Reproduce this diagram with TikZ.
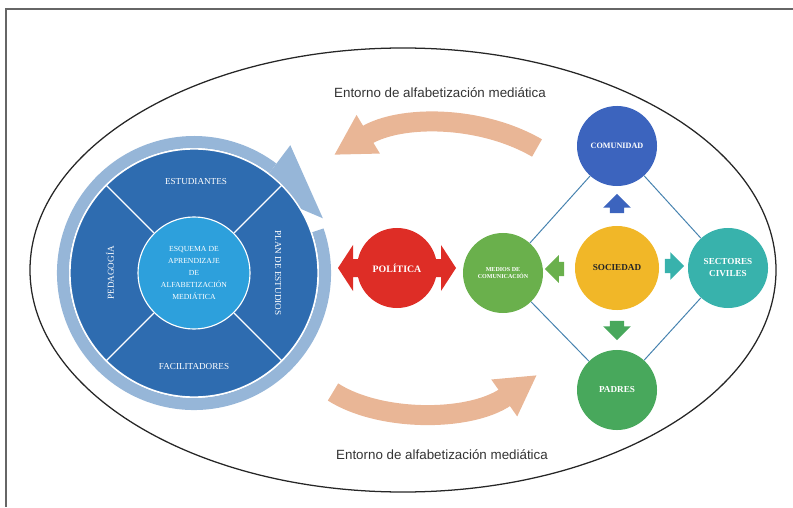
\documentclass[tikz,border=0pt]{standalone}
\usepackage{fontspec}
\setmainfont{Liberation Serif}
\newfontfamily\envfont{Liberation Sans}
\usepackage{xcolor}
\usepackage{tikz}
\usetikzlibrary{shapes.arrows, arrows.meta, calc, positioning}

\definecolor{diskblue}{RGB}{46,108,176}
\definecolor{ringblue}{RGB}{150,182,216}
\definecolor{coreblue}{RGB}{45,160,220}
\definecolor{polred}{RGB}{222,45,38}
\definecolor{medgreen}{RGB}{106,176,76}
\definecolor{comblue}{RGB}{60,100,190}
\definecolor{socyellow}{RGB}{241,183,40}
\definecolor{secteal}{RGB}{56,178,172}
\definecolor{padgreen}{RGB}{72,168,92}
\definecolor{salmon}{RGB}{233,182,150}
\definecolor{linkblue}{RGB}{70,130,175}

\tikzset{
  ball/.style={circle, minimum size=2cm, inner sep=0pt, align=center, text=white,
    font=\bfseries\fontsize{6.5}{8.5}\selectfont},
  sector/.style={text=white, inner sep=1pt, font=\fontsize{6.5}{7}\selectfont},
  pointer/.style={single arrow, minimum height=0.48cm, inner xsep=0pt, inner ysep=0.17cm,
    single arrow head extend=0.17cm, single arrow head indent=0pt},
  link/.style={draw=linkblue, line width=0.7pt},
  envarrow/.style={draw=salmon, line width=0.5cm, -{Triangle[length=1cm,width=1.05cm]}},
  envtext/.style={text=black!80, font=\envfont\fontsize{9.5}{11}\selectfont},
}

\begin{document}
\begin{tikzpicture}[x=0.025cm, y=0.025cm]
  \useasboundingbox (0,0) rectangle (793,507);
  \draw[black!60, line width=1.4pt] (793,498) -- (6,498) -- (6,0);
  \draw[black!85, line width=0.9pt] (403,237) ellipse [x radius=373, y radius=222];

  \coordinate (hub) at (194,234);
  \draw[ringblue, line width=0.3cm] ($(hub)+(19:131)$) arc[start angle=19, end angle=-307, radius=131];
  \fill[ringblue] ($(hub)+(53:160)$) -- ($(hub)+(23:140)$) -- ($(hub)+(53:104)$) -- cycle;
  \node[circle, fill=diskblue, draw=white, line width=1pt, minimum size=6.2cm] (disc) at (hub) {};
  \node[circle, fill=coreblue, draw=white, line width=0.8pt, minimum size=2.8cm, inner sep=0pt,
    align=center, text=white, font=\fontsize{5.5}{8.5}\selectfont] (core) at (hub)
    {ESQUEMA DE\\APRENDIZAJE\\DE\\ALFABETIZACIÓN\\MEDIÁTICA};
  \foreach \a in {45,135,225,315}
    \draw[white, line width=1pt] (core.\a) -- (disc.\a);
  \node[sector] (estud) at (196,325) {ESTUDIANTES};
  \node[sector] (facil) at (194,140) {FACILITADORES};
  \node[sector, rotate=90] (pedag) at (110,234) {PEDAGOGÍA};
  \node[sector, rotate=-90] (plan) at (278,234) {PLAN DE ESTUDIOS};

  \fill[polred] (338,239) -- (353,262) -- (353,248) -- (441,248) -- (441,262) -- (456,239)
    -- (441,216) -- (441,230) -- (353,230) -- (353,216) -- cycle;
  \node[ball, fill=polred, font=\bfseries\fontsize{7}{8}\selectfont] (pol) at (397,239) {POLÍTICA};
  \node[ball, fill=medgreen, font=\bfseries\fontsize{4.3}{5}\selectfont] (medios) at (503,234) {MEDIOS DE\\COMUNICACIÓN};
  \node[ball, fill=comblue, font=\bfseries\fontsize{5.8}{7}\selectfont] (comunidad) at (617,361) {COMUNIDAD};
  \node[ball, fill=socyellow, text=black!85, minimum size=2.1cm] (sociedad) at (617,239) {SOCIEDAD};
  \node[ball, fill=secteal] (sectores) at (728,239) {SECTORES\\CIVILES};
  \node[ball, fill=padgreen] (padres) at (617,117) {PADRES};

  \draw[link] (medios) -- (comunidad);
  \draw[link] (comunidad) -- (sectores);
  \draw[link] (sectores) -- (padres);
  \draw[link] (padres) -- (medios);

  \node[pointer, fill=comblue, rotate=90] (upArrow) at (617,300) {};
  \node[pointer, fill=padgreen, rotate=-90] (downArrow) at (617,180) {};
  \node[pointer, fill=secteal] (rightArrow) at (671,241) {};
  \node[pointer, fill=medgreen, rotate=180] (leftArrow) at (558,238) {};

  \coordinate (topTail) at (537,359);
  \coordinate (topTip) at (334,352);
  \draw[envarrow] (topTail) .. controls (480,392) and (400,392) .. (topTip);
  \coordinate (botTail) at (333,115);
  \coordinate (botTip) at (537,132);
  \draw[envarrow] (botTail) .. controls (380,85) and (470,85) .. (botTip);

  \node[envtext] (envTop) at (440,414) {Entorno de alfabetización mediática};
  \node[envtext] (envBot) at (442,52) {Entorno de alfabetización mediática};
\end{tikzpicture}
\end{document}
